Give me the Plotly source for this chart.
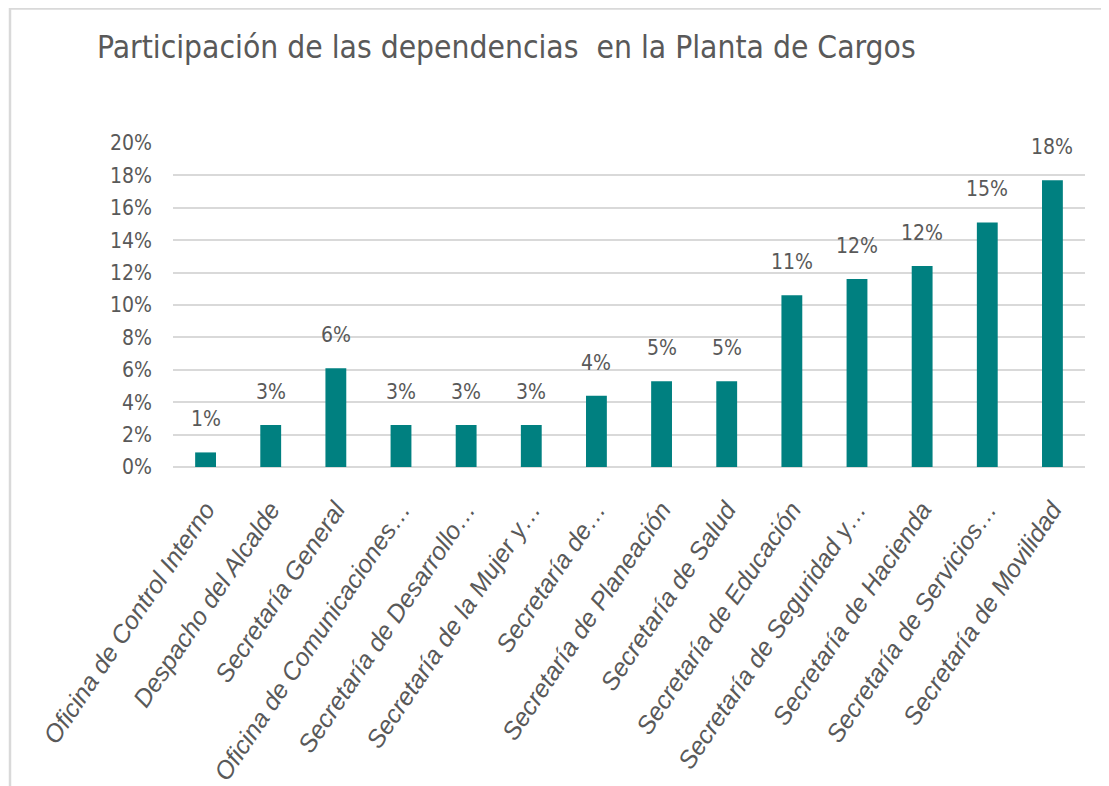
import plotly.graph_objects as go

categories = [
    "Oficina de Control Interno",
    "Despacho del Alcalde",
    "Secretaría General",
    "Oficina de Comunicaciones…",
    "Secretaría de Desarrollo…",
    "Secretaría de la Mujer y…",
    "Secretaría de…",
    "Secretaría de Planeación",
    "Secretaría de Salud",
    "Secretaría de Educación",
    "Secretaría de Seguridad y…",
    "Secretaría de Hacienda",
    "Secretaría de Servicios…",
    "Secretaría de Movilidad",
]
values = [0.009, 0.026, 0.061, 0.026, 0.026, 0.026, 0.044, 0.053, 0.053,
          0.106, 0.116, 0.124, 0.151, 0.177]
y_ticks = [0, 0.02, 0.04, 0.06, 0.08, 0.10, 0.12, 0.14, 0.16, 0.18, 0.20]
title_text = "Participación de las dependencias  en la Planta de Cargos"

FONT = "DejaVu Sans Condensed, Liberation Sans Narrow, sans-serif"
XFONT = "Liberation Sans, Arial, sans-serif"
OFF = 8  # page body margin
W, H = 1109 - OFF, 786 - OFF
L, T = 173 - OFF, 143 - OFF
pw, ph = 912, 324
R, B = W - L - pw, H - T - ph


def px_x(p):
    return (p - OFF - L) / pw


def px_y(p):
    return (T + ph - (p - OFF)) / ph


fig = go.Figure(go.Bar(
    x=categories, y=values,
    marker=dict(color="#008080", line=dict(width=0)),
    width=0.32,
    cliponaxis=False,
))

for c, v in zip(categories, values):
    fig.add_annotation(x=c, y=v, text=f"{round(v * 100)}%", showarrow=False,
                       yanchor="bottom", yshift=19,
                       font=dict(family=FONT, size=21, color="#595959"))

fig.update_layout(
    width=W, height=H,
    margin=dict(l=L, r=R, t=T, b=B, autoexpand=False),
    paper_bgcolor="white", plot_bgcolor="white",
    showlegend=False,
    title=dict(text=title_text, x=(97 - OFF) / W, xanchor="left", y=1 - (47 - OFF) / H,
               yanchor="middle", font=dict(family=FONT, size=31.5, color="#595959")),
    xaxis=dict(tickangle=-56, automargin=False, tickmode="array", tickvals=categories,
               ticktext=[f"<i>{c}</i>" for c in categories],
               tickfont=dict(family=XFONT, size=25, color="#595959", style="italic"),
               showgrid=False, showline=False, ticks="", ticklabelstandoff=22),
    yaxis=dict(range=[0, 0.2], tickvals=y_ticks, tickformat=".0%", automargin=False,
               tickfont=dict(family=FONT, size=21, color="#595959"),
               showgrid=True, gridcolor="#d9d9d9", gridwidth=1.5,
               zeroline=True, zerolinecolor="#d9d9d9", zerolinewidth=1.5,
               showline=False, ticks="", ticklabelstandoff=20),
    shapes=[
        dict(type="line", xref="paper", yref="paper", x0=px_x(10), x1=px_x(1120),
             y0=px_y(8.5), y1=px_y(8.5), line=dict(color="#d9d9d9", width=2.5)),
        dict(type="line", xref="paper", yref="paper", x0=px_x(10), x1=px_x(10),
             y0=px_y(8), y1=px_y(800), line=dict(color="#d9d9d9", width=2.5)),
    ],
)

fig.write_html("out.html")
